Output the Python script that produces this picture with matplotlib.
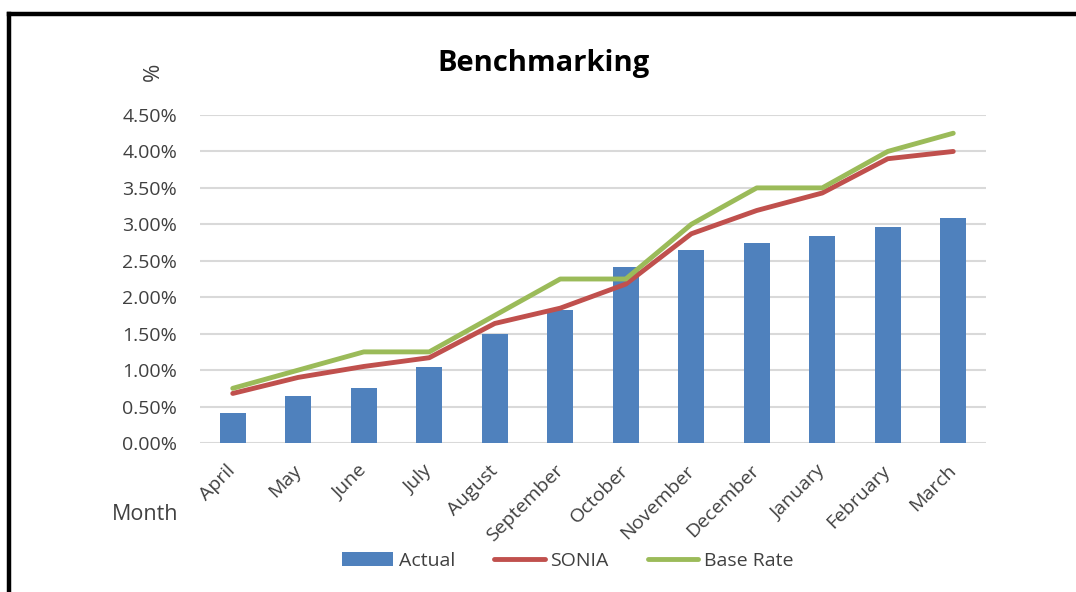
import matplotlib
matplotlib.use("Agg")
import matplotlib.pyplot as plt
from matplotlib.lines import Line2D
from matplotlib.ticker import FuncFormatter
import numpy as np

plt.rcParams['font.family'] = ['Open Sans', 'DejaVu Sans']

months = ["April", "May", "June", "July", "August", "September", "October",
          "November", "December", "January", "February", "March"]
actual = [0.41, 0.65, 0.76, 1.04, 1.49, 1.82, 2.41, 2.65, 2.75, 2.84, 2.97, 3.09]
sonia = [0.68, 0.90, 1.05, 1.17, 1.64, 1.85, 2.18, 2.87, 3.19, 3.43, 3.90, 4.00]
base_rate = [0.75, 1.00, 1.25, 1.25, 1.75, 2.25, 2.25, 3.00, 3.50, 3.50, 4.00, 4.25]
y_ticks = [0.0, 0.5, 1.0, 1.5, 2.0, 2.5, 3.0, 3.5, 4.0, 4.5]

BLUE = "#4F81BD"
RED = "#C0504D"
GREEN = "#9BBB59"
GRID = "#D9D9D9"
TEXT = "#404040"

W, H = 1076, 592
fig = plt.figure(figsize=(W / 100, H / 100), dpi=100)
ax = fig.add_axes([200 / W, 1 - 443 / H, 786 / W, 328 / H])

x = np.arange(len(months))
ax.bar(x, actual, width=0.4, color=BLUE, label="Actual", zorder=2)
ax.plot(x, sonia, color=RED, lw=3.5, label="SONIA", zorder=3,
        solid_capstyle="round", solid_joinstyle="round")
ax.plot(x, base_rate, color=GREEN, lw=3.5, label="Base Rate", zorder=3,
        solid_capstyle="round", solid_joinstyle="round")

ax.set_xlim(-0.5, len(months) - 0.5)
ax.set_ylim(0, 4.5)
ax.set_yticks(y_ticks)
ax.yaxis.set_major_formatter(FuncFormatter(lambda v, p: f"{v:.2f}%"))
ax.grid(axis="y", color=GRID, lw=1.5, zorder=0)
ax.set_axisbelow(True)
for s in ax.spines.values():
    s.set_visible(False)
ax.tick_params(axis="both", length=0, labelsize=14, labelcolor=TEXT)
ax.tick_params(axis="y", pad=16.5)
ax.set_xticks(x)
ax.set_xticklabels(months, rotation=45, ha="right", va="center",
                   rotation_mode="anchor")
ax.tick_params(axis="x", pad=18)

fig.text(544 / W, 1 - 63 / H, "Benchmarking", ha="center", va="center",
         fontsize=21, fontweight="bold", color="black")
fig.text(153 / W, 1 - 72 / H, "%", ha="center", va="center", rotation=90,
         fontsize=16, color=TEXT)
fig.text(178 / W, 1 - 515 / H, "Month", ha="right", va="center",
         fontsize=15.5, color=TEXT)

handles, labels = ax.get_legend_handles_labels()
order = [2, 0, 1]
leg = fig.legend([handles[i] for i in order], [labels[i] for i in order],
                 loc="center", bbox_to_anchor=(568 / W, 1 - 561 / H), ncol=3,
                 frameon=False, fontsize=14, handlelength=2.6,
                 columnspacing=2.0, handletextpad=0.3, labelcolor=TEXT)

# outer frame
fig.add_artist(Line2D([9 / W, 1.0], [1 - 14 / H, 1 - 14 / H], color="black",
                      lw=3.2, transform=fig.transFigure))
fig.add_artist(Line2D([9 / W, 9 / W], [0.0, 1 - 14 / H], color="black",
                      lw=3.2, transform=fig.transFigure))

fig.savefig("out.png", dpi=100, facecolor="white")
